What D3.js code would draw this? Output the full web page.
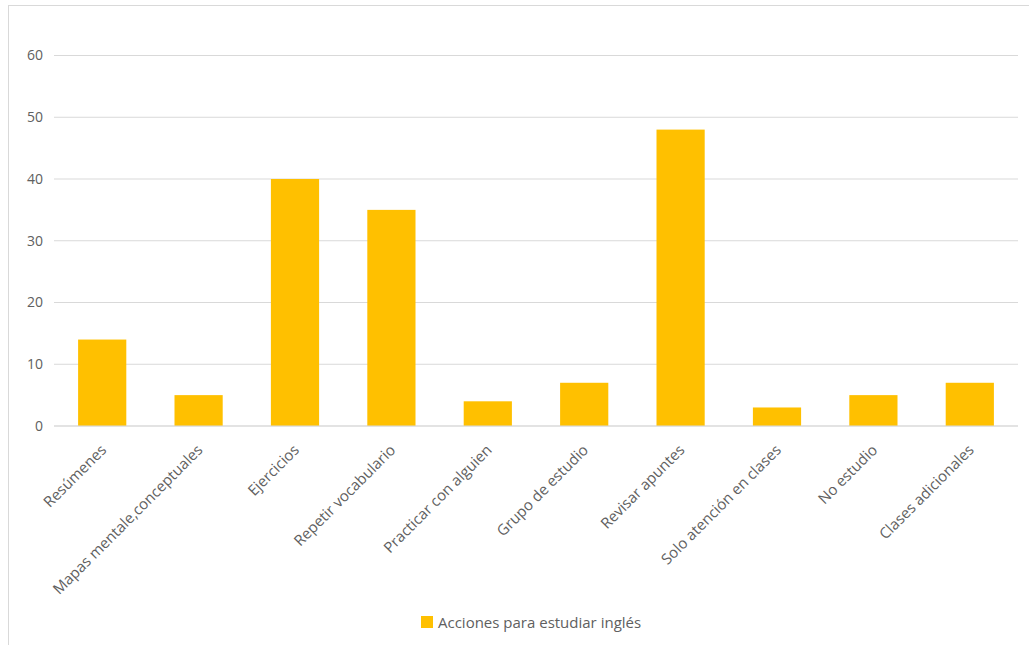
<!DOCTYPE html>
<html><head><meta charset="utf-8">
<script src="https://cdn.jsdelivr.net/npm/d3@7"></script>
<style>body{margin:0;background:#fff;} svg{display:block;}</style>
</head><body>
<svg id="c" width="1029" height="645"></svg>
<script>
const categories = ["Resúmenes","Mapas mentale,conceptuales","Ejercicios","Repetir vocabulario","Practicar con alguien","Grupo de estudio","Revisar apuntes","Solo atención en clases","No estudio","Clases adicionales"];
const values = [14,5,40,35,4,7,48,3,5,7];
const yTicks = [0,10,20,30,40,50,60];
const seriesName = "Acciones para estudiar inglés";

const svg = d3.select("#c");
const font = "'Open Sans', sans-serif";
const textColor = "#606060";
const barColor = "#FFC000";

svg.append("rect").attr("x",8.5).attr("y",5.5).attr("width",1100).attr("height",700)
  .attr("fill","#fff").attr("stroke","#d9d9d9").attr("stroke-width",1);

const x = d3.scaleBand().domain(categories).range([54,1018]).paddingInner(0.5).paddingOuter(0.25);
const y = d3.scaleLinear().domain([0,60]).range([426,55.5]);

const grid = svg.append("g");
grid.selectAll("line").data(yTicks).join("line")
  .attr("x1",54).attr("x2",1018)
  .attr("y1",d=>y(d)).attr("y2",d=>y(d))
  .attr("stroke","#d9d9d9").attr("stroke-width",1.2);

const yAxis = svg.append("g").attr("transform","translate(43,0)")
  .call(d3.axisLeft(y).tickValues(yTicks).tickSize(0).tickPadding(0));
yAxis.select(".domain").remove();
yAxis.selectAll("text").attr("fill",textColor).style("font-family",font).style("font-size","14px");

svg.append("g").selectAll("rect").data(values).join("rect")
  .attr("x",(d,i)=>x(categories[i]))
  .attr("width",x.bandwidth())
  .attr("y",d=>y(d))
  .attr("height",d=>y(0)-y(d))
  .attr("fill",barColor);

const xAxis = svg.append("g").attr("transform","translate(0,426)")
  .call(d3.axisBottom(x).tickSize(0).tickPadding(0));
xAxis.select(".domain").attr("stroke","#d9d9d9").attr("stroke-width",1.2)
  .attr("d","M54,0H1018");
xAxis.selectAll(".tick text")
  .attr("fill",textColor).style("font-family",font).style("font-size","15px")
  .attr("text-anchor","end")
  .attr("x",0).attr("y",0).attr("dy",0)
  .attr("transform","translate(5,25) rotate(-45)");

const lg = svg.append("g");
lg.append("rect").attr("x",421).attr("y",616).attr("width",12).attr("height",12).attr("fill",barColor);
lg.append("text").attr("x",438).attr("y",627.5).text(seriesName)
  .attr("fill",textColor).style("font-family",font).style("font-size","15px");
</script>
</body></html>
